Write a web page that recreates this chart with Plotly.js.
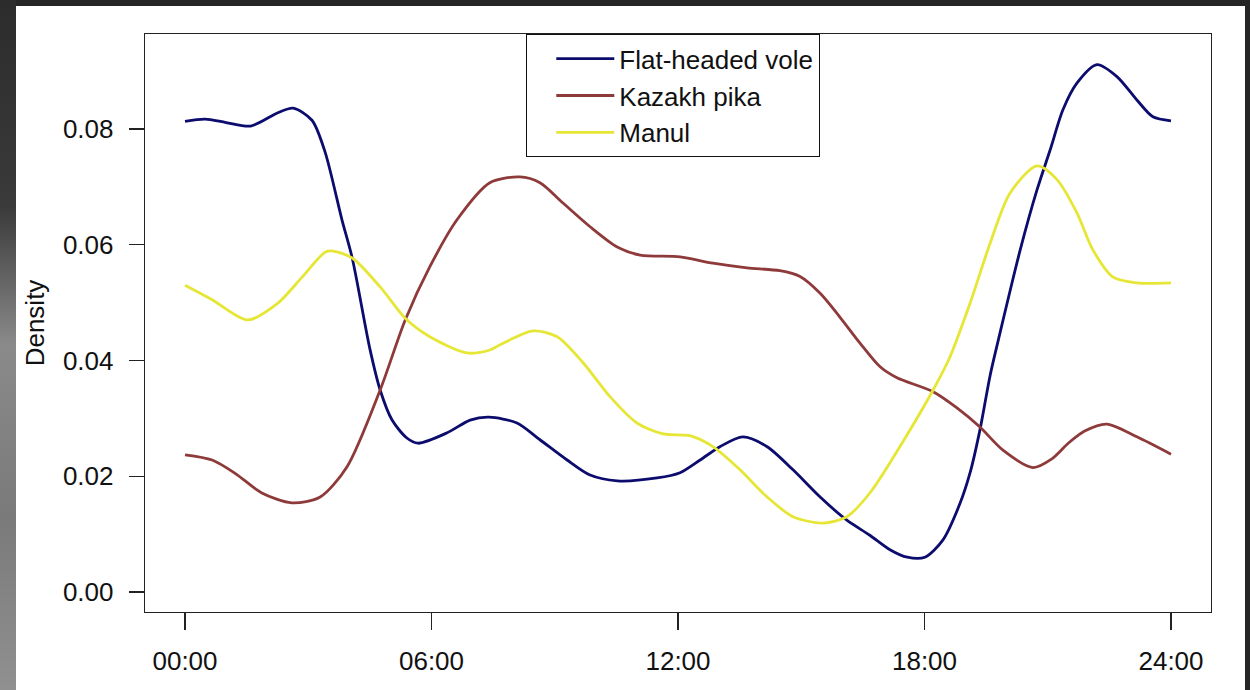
<!DOCTYPE html>
<html>
<head>
<meta charset="utf-8">
<script src="https://cdn.plot.ly/plotly-3.0.1.min.js"></script>
<style>
  html, body { margin: 0; padding: 0; }
  body { width: 1250px; height: 690px; overflow: hidden; position: relative;
         background: #262626; }
  #leftstrip { position: absolute; left: 0; top: 0; width: 16px; height: 690px;
         background: linear-gradient(to bottom, #2c2c2c 0%, #3a3a3a 30%, #8a8a8a 50%, #7a7a7a 75%, #909090 100%); }
  #chart { position: absolute; left: 16px; top: 6px; width: 1229px; height: 684px; background: #fff; }
</style>
</head>
<body>
<div id="leftstrip"></div>
<div id="chart"></div>
<script>
// ---- data (hours of day, kernel density) ----
const seriesNames = ["Flat-headed vole", "Kazakh pika", "Manul"];

const voleHours = [0, 0.49, 1.0, 1.6, 2.26, 2.63, 3.09, 3.41, 3.82, 4.07, 4.5, 4.75, 5.04, 5.40, 5.67, 6.38, 6.94, 7.4, 8.08, 8.64, 9.30, 9.86, 10.52, 11.49, 12.05, 12.54, 13.02, 13.58, 14.17, 14.80, 15.46, 16.11, 16.67, 17.16, 17.58, 18.01, 18.45, 18.87, 19.11, 19.35, 19.6, 19.84, 20.33, 20.74, 21.06, 21.37, 21.71, 22.2, 22.69, 23.17, 23.56, 24];
const voleDensity = [0.0813, 0.0817, 0.0811, 0.0805, 0.0828, 0.0836, 0.0815, 0.0760, 0.0643, 0.0577, 0.0420, 0.0349, 0.0297, 0.0266, 0.0257, 0.0275, 0.0297, 0.0302, 0.0292, 0.0263, 0.0228, 0.0202, 0.0192, 0.0197, 0.0206, 0.0228, 0.0251, 0.0268, 0.0251, 0.0211, 0.0164, 0.0124, 0.0098, 0.0073, 0.0060, 0.0060, 0.0090, 0.0154, 0.0206, 0.0280, 0.0375, 0.0448, 0.0591, 0.0695, 0.0764, 0.0833, 0.0879, 0.0911, 0.0890, 0.0850, 0.0821, 0.0814];

const pikaHours = [0, 0.66, 1.22, 1.87, 2.6, 3.29, 3.94, 4.75, 5.36, 5.96, 6.62, 7.42, 8.15, 8.64, 9.2, 9.86, 10.52, 11.08, 12.05, 12.85, 13.68, 14.48, 14.97, 15.46, 15.94, 16.43, 16.92, 17.33, 18.21, 18.79, 19.35, 19.91, 20.64, 21.1, 21.5, 21.9, 22.44, 23.17, 24];
const pikaDensity = [0.0237, 0.0228, 0.0205, 0.0171, 0.0154, 0.0164, 0.0216, 0.0349, 0.0470, 0.0562, 0.0643, 0.0707, 0.0717, 0.0707, 0.0672, 0.0631, 0.0596, 0.0582, 0.0579, 0.0568, 0.0560, 0.0555, 0.0545, 0.0516, 0.0475, 0.0430, 0.0389, 0.0370, 0.0346, 0.0318, 0.0285, 0.0245, 0.0215, 0.0230, 0.0257, 0.0278, 0.0290, 0.0268, 0.0238];

const manulHours = [0, 0.66, 1.53, 2.26, 2.85, 3.41, 3.6, 4.07, 4.75, 5.36, 5.96, 6.86, 7.42, 7.67, 8.47, 9.06, 9.69, 10.35, 11.0, 11.64, 12.29, 12.85, 13.51, 14.17, 14.80, 15.53, 16.11, 16.67, 17.4, 18.21, 18.62, 19.11, 19.6, 20.08, 20.74, 21.23, 21.71, 22.1, 22.59, 23.17, 24];
const manulDensity = [0.0530, 0.0505, 0.0470, 0.0499, 0.0544, 0.0587, 0.0589, 0.0577, 0.0527, 0.0473, 0.0441, 0.0413, 0.0418, 0.0427, 0.0451, 0.0441, 0.0396, 0.0337, 0.0292, 0.0273, 0.0270, 0.0251, 0.0211, 0.0164, 0.0130, 0.0119, 0.0130, 0.0171, 0.0251, 0.0349, 0.0406, 0.0499, 0.0603, 0.0689, 0.0736, 0.0712, 0.0655, 0.0591, 0.0544, 0.0534, 0.0534];

const xTickValues = [0, 6, 12, 18, 24];
const xTickLabels = ["00:00", "06:00", "12:00", "18:00", "24:00"];
const yTickValues = [0, 0.02, 0.04, 0.06, 0.08];
const yTickLabels = ["0.00", "0.02", "0.04", "0.06", "0.08"];

const colors = ["#0c0c6e", "#8e3a3a", "#e6e637"];

const FONT = "Liberation Sans, Arial, Helvetica, sans-serif";

function mk(x, y, name, color) {
  return { x: x, y: y, name: name, type: "scatter", mode: "lines",
           line: { color: color, width: 2.8, shape: "spline", smoothing: 0.8 },
           hoverinfo: "skip" };
}

const data = [
  mk(voleHours, voleDensity, seriesNames[0], colors[0]),
  mk(pikaHours, pikaDensity, seriesNames[1], colors[1]),
  mk(manulHours, manulDensity, seriesNames[2], colors[2])
];

const layout = {
  width: 1229, height: 684,
  paper_bgcolor: "#ffffff", plot_bgcolor: "#ffffff",
  margin: { l: 129, r: 34, t: 28, b: 78 },
  font: { family: FONT, size: 26, color: "#111" },
  showlegend: true,
  legend: {
    x: 0.3574, xanchor: "left", y: 1, yanchor: "top",
    bgcolor: "#ffffff", bordercolor: "#111", borderwidth: 1.3,
    font: { family: FONT, size: 26, color: "#111" },
    itemwidth: 58, indentation: 24, tracegroupgap: 0
  },
  xaxis: {
    range: [-0.974, 24.974], tickmode: "array",
    tickvals: xTickValues, ticktext: xTickLabels,
    showgrid: false, zeroline: false,
    showline: true, mirror: true, linecolor: "#222", linewidth: 1.3,
    ticks: "outside", ticklen: 17, tickwidth: 1.3, tickcolor: "#222",
    ticklabelstandoff: 8,
    tickfont: { family: FONT, size: 26, color: "#111" }
  },
  yaxis: {
    range: [-0.00346, 0.0964], tickmode: "array",
    tickvals: yTickValues, ticktext: yTickLabels,
    showgrid: false, zeroline: false,
    showline: true, mirror: true, linecolor: "#222", linewidth: 1.3,
    ticks: "outside", ticklen: 15, tickwidth: 1.3, tickcolor: "#222",
    ticklabelstandoff: 10,
    tickfont: { family: FONT, size: 26, color: "#111" },
    title: { text: "Density", font: { family: FONT, size: 26, color: "#111" }, standoff: 10 }
  }
};

Plotly.newPlot("chart", data, layout, { displayModeBar: false, staticPlot: true });
</script>
</body>
</html>
